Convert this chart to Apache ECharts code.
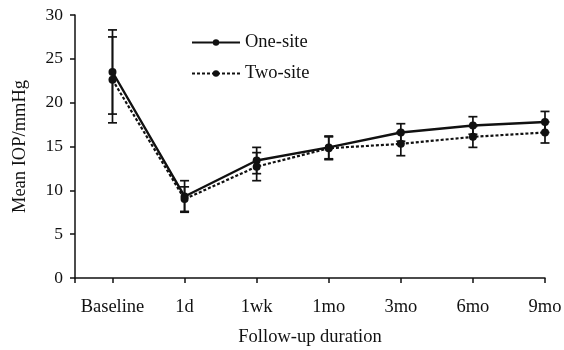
<!DOCTYPE html>
<html><head><meta charset="utf-8">
<script src="https://cdn.jsdelivr.net/npm/echarts@6/dist/echarts.min.js"></script>
<style>html,body{margin:0;padding:0;background:#fff}#c{width:564px;height:350px}</style>
</head><body><div id="c"></div>
<script>
var categories = ['Baseline','1d','1wk','1mo','3mo','6mo','9mo'];
var oneSite = [23.5, 9.3, 13.4, 14.9, 16.6, 17.4, 17.8];
var oneSiteErr = [4.8, 1.8, 1.5, 1.3, 1.0, 1.0, 1.2];
var twoSite = [22.6, 9.0, 12.7, 14.8, 15.3, 16.1, 16.6];
var twoSiteErr = [4.9, 1.4, 1.6, 1.3, 1.35, 1.2, 1.2];
var yTicks = [0,5,10,15,20,25,30];

var FONT = 'Liberation Serif';
var INK = '#111';
function pts(v){ return v.map(function(y,i){ return [i,y]; }); }
function errs(v,e){ return v.map(function(y,i){ return [i, y-e[i], y+e[i]]; }); }
function errRender(params, api){
  var x = api.value(0), lo = api.coord([x, api.value(1)]), hi = api.coord([x, api.value(2)]);
  var w = 4.5;
  var st = {stroke: INK, lineWidth: 1.7};
  return {type:'group', children:[
    {type:'line', shape:{x1:lo[0],y1:lo[1],x2:hi[0],y2:hi[1]}, style:st},
    {type:'line', shape:{x1:lo[0]-w,y1:lo[1],x2:lo[0]+w,y2:lo[1]}, style:st},
    {type:'line', shape:{x1:hi[0]-w,y1:hi[1],x2:hi[0]+w,y2:hi[1]}, style:st}
  ]};
}
var chart = echarts.init(document.getElementById('c'), null, {renderer:'canvas'});
chart.setOption({
  animation:false,
  backgroundColor:'#fff',
  textStyle:{fontFamily:FONT, color:INK},
  grid:{left:75, right:19, top:15, bottom:72, containLabel:false, outerBoundsMode:'none'},
  legend:{
    orient:'vertical', left:186, top:28, itemWidth:48, itemHeight:8, itemGap:12,
    textStyle:{fontFamily:FONT, fontSize:18.5, color:INK},
    data:['One-site','Two-site']
  },
  xAxis:{
    type:'value', min:-0.52, max:6,
    axisLine:{onZero:false, lineStyle:{color:INK, width:1.5}},
    axisTick:{show:true, length:5, lineStyle:{color:INK, width:1.5}, customValues:[-0.52,0,1,2,3,4,5,6]},
    axisLabel:{customValues:[0,1,2,3,4,5,6], formatter:function(v){return categories[Math.round(v)];}, fontFamily:FONT, fontSize:18.5, color:INK, margin:20},
    splitLine:{show:false},
    name:'Follow-up duration', nameLocation:'middle', nameGap:50,
    nameTextStyle:{fontFamily:FONT, fontSize:18.5, color:INK}
  },
  yAxis:{
    type:'value', min:0, max:30, interval:5,
    axisLine:{show:true, onZero:false, lineStyle:{color:INK, width:1.5}},
    axisTick:{show:true, length:5, lineStyle:{color:INK, width:1.5}},
    axisLabel:{fontFamily:FONT, fontSize:17.5, color:INK, margin:12},
    splitLine:{show:false},
    name:'Mean IOP/mmHg', nameLocation:'middle', nameGap:45,
    nameTextStyle:{fontFamily:FONT, fontSize:18.5, color:INK}
  },
  series:[
    {name:'One-site errbar', type:'custom', renderItem:errRender, data:errs(oneSite,oneSiteErr), z:3},
    {name:'Two-site errbar', type:'custom', renderItem:errRender, data:errs(twoSite,twoSiteErr), z:3},
    {name:'One-site', type:'line', data:pts(oneSite), symbol:'circle', symbolSize:8,
     itemStyle:{color:INK}, lineStyle:{color:INK, width:2.4, type:'solid'}, z:4},
    {name:'Two-site', type:'line', data:pts(twoSite), symbol:'circle', symbolSize:8,
     itemStyle:{color:INK}, lineStyle:{color:INK, width:2.2, type:[3,2]}, z:4}
  ]
});
</script></body></html>
